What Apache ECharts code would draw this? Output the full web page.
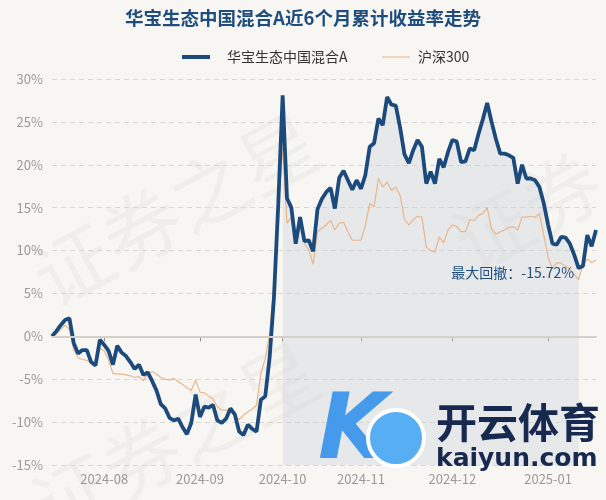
<!DOCTYPE html>
<html>
<head>
<meta charset="utf-8">
<script src="https://cdn.jsdelivr.net/npm/echarts@6/dist/echarts.min.js"></script>
<style>
  html, body { margin: 0; padding: 0; background: #f8f6f2; }
  #chart_main { width: 606px; height: 500px; }
</style>
</head>
<body>
<div id="chart_main"></div>
<script>
// 交易日
const dates_list = [
  '2024-07-16','2024-07-17','2024-07-18','2024-07-19','2024-07-22','2024-07-23','2024-07-24','2024-07-25','2024-07-26','2024-07-29','2024-07-30','2024-07-31',
  '2024-08-01','2024-08-02','2024-08-05','2024-08-06','2024-08-07','2024-08-08','2024-08-09','2024-08-12','2024-08-13','2024-08-14','2024-08-15','2024-08-16',
  '2024-08-19','2024-08-20','2024-08-21','2024-08-22','2024-08-23','2024-08-26','2024-08-27','2024-08-28','2024-08-29','2024-08-30',
  '2024-09-02','2024-09-03','2024-09-04','2024-09-05','2024-09-06','2024-09-09','2024-09-10','2024-09-11','2024-09-12','2024-09-13',
  '2024-09-18','2024-09-19','2024-09-20','2024-09-23','2024-09-24','2024-09-25','2024-09-26','2024-09-27','2024-09-30',
  '2024-10-08','2024-10-09','2024-10-10','2024-10-11','2024-10-14','2024-10-15','2024-10-16','2024-10-17','2024-10-18',
  '2024-10-21','2024-10-22','2024-10-23','2024-10-24','2024-10-25','2024-10-28','2024-10-29','2024-10-30','2024-10-31',
  '2024-11-01','2024-11-04','2024-11-05','2024-11-06','2024-11-07','2024-11-08','2024-11-11','2024-11-12','2024-11-13','2024-11-14','2024-11-15',
  '2024-11-18','2024-11-19','2024-11-20','2024-11-21','2024-11-22','2024-11-25','2024-11-26','2024-11-27','2024-11-28','2024-11-29',
  '2024-12-02','2024-12-03','2024-12-04','2024-12-05','2024-12-06','2024-12-09','2024-12-10','2024-12-11','2024-12-12','2024-12-13',
  '2024-12-16','2024-12-17','2024-12-18','2024-12-19','2024-12-20','2024-12-23','2024-12-24','2024-12-25','2024-12-26','2024-12-27','2024-12-30','2024-12-31',
  '2025-01-02','2025-01-03','2025-01-06','2025-01-07','2025-01-08','2025-01-09','2025-01-10','2025-01-13','2025-01-14','2025-01-15','2025-01-16','2025-01-17'
]

// 基金累计收益率(%)
const fund_stat = [
  0, 0.6, 1.3, 1.9, 2.1, -0.8, -2.0, -1.6, -1.6, -3.0, -3.4, -0.4,
  -1.0, -1.7, -3.3, -1.1, -1.9, -2.3, -3.0, -3.8, -3.3, -4.5, -4.2, -5.2,
  -6.3, -7.9, -8.4, -9.5, -9.8, -9.6, -10.6, -11.4, -10.1, -6.8,
  -9.4, -8.2, -8.3, -8.0, -9.8, -10.1, -9.6, -8.4, -9.1, -11.1,
  -11.5, -10.3, -10.8, -11.1, -7.4, -7.0, -2.5, 4.5, 15.5,
  28.1, 16.1, 15.0, 10.8, 13.9, 11.1, 11.2, 9.9, 14.8,
  16.0, 16.8, 17.3, 14.9, 18.5, 19.3, 18.2, 17.1, 18.2,
  17.2, 18.8, 22.1, 22.5, 25.4, 24.6, 27.9, 27.0, 26.9, 24.3, 21.2,
  20.2, 21.7, 22.9, 22.1, 17.8, 19.2, 17.8, 20.7, 19.7, 21.5,
  22.9, 22.7, 20.3, 20.4, 21.9, 21.7, 23.6, 25.3, 27.2, 25.0,
  23.0, 21.3, 21.3, 21.1, 20.8, 17.8, 20.0, 18.4, 18.4, 18.2, 17.4, 15.5,
  13.0, 10.8, 10.7, 11.6, 11.5, 10.8, 9.5, 7.96, 8.2, 11.8, 10.5, 12.4
]

// 沪深300累计收益率(%)
const hs300_stat = [
  0, 0.3, 0.8, 1.3, 0.8, -1.6, -2.5, -2.7, -2.8, -3.1, -3.4, -1.4,
  -1.7, -2.8, -4.3, -4.4, -4.4, -4.5, -4.6, -4.8, -4.7, -5.2, -4.4, -4.1,
  -4.4, -4.8, -5.0, -5.1, -4.9, -5.3, -5.6, -6.0, -6.3, -5.1,
  -6.5, -6.6, -7.0, -7.3, -8.2, -8.6, -8.6, -8.8, -9.2, -9.7,
  -9.2, -8.8, -8.5, -8.0, -4.3, -2.6, 0.3, 6.0, 15.0,
  22.0, 13.2, 13.9, 11.5, 13.3, 10.8, 10.1, 8.4, 12.2,
  12.6, 13.0, 13.5, 12.4, 13.2, 13.3, 12.2, 11.2, 11.2,
  11.2, 12.9, 15.5, 15.1, 18.4, 17.4, 18.0, 17.0, 17.4, 16.4, 13.6,
  13.0, 13.6, 14.0, 13.9, 10.4, 10.0, 9.8, 11.6, 10.9, 12.4,
  13.0, 12.8, 12.2, 12.2, 13.6, 13.5, 14.1, 14.3, 15.0, 12.5,
  11.9, 12.2, 12.4, 12.7, 12.8, 12.4, 13.9, 13.9, 14.0, 13.9, 14.3, 11.8,
  9.2, 7.9, 8.6, 8.5, 8.2, 7.8, 7.2, 6.6, 8.4, 9.0, 8.6, 8.9
]

const y_ticks = [-15, -10, -5, 0, 5, 10, 15, 20, 25, 30]

// 最大回撤区间：峰值 -> 谷值
const dd_start = 53
const dd_end = 121
const dd_text = '最大回撤：-15.72%'

let dd_area = fund_stat.map((v, i) => (i >= dd_start && i <= dd_end) ? v : '-')

function isMonthStart(index) {
  if (index === 0) return false
  return dates_list[index].substr(0, 7) !== dates_list[index - 1].substr(0, 7)
}

let font = '"Noto Sans CJK SC", "Noto Sans", sans-serif'
let wm = 'rgba(0,0,0,0.03)'

let option = {
  backgroundColor: '#f8f6f2',
  textStyle: { fontFamily: font },
  title: {
    text: '华宝生态中国混合A近6个月累计收益率走势',
    left: 'center',
    top: 4,
    textStyle: { color: '#1f4e7e', fontSize: 18.5, fontWeight: 'bold', fontFamily: font }
  },
  legend: [
    {
      data: [{ name: '华宝生态中国混合A', icon: 'rect' }],
      top: 45,
      left: 177,
      itemWidth: 28,
      itemHeight: 4,
      textStyle: { color: '#333', fontSize: 14, fontFamily: font, padding: [0, 0, 0, 12] }
    },
    {
      data: [{ name: '沪深300', icon: 'rect' }],
      top: 45,
      left: 377,
      itemWidth: 28,
      itemHeight: 1,
      textStyle: { color: '#333', fontSize: 14, fontFamily: font, padding: [0, 0, 0, 3] }
    }
  ],
  graphic: [
    {
      type: 'text', left: 20, top: 100, rotation: 0.5, silent: true, z: 0,
      style: { text: '证券之星', fontSize: 78, fill: wm, fontFamily: font }
    },
    {
      type: 'text', left: 20, top: 330, rotation: 0.5, silent: true, z: 0,
      style: { text: '证券之星', fontSize: 78, fill: wm, fontFamily: font }
    },
    {
      type: 'text', left: 440, top: 140, rotation: 0.5, silent: true, z: 0,
      style: { text: '证券', fontSize: 78, fill: wm, fontFamily: font }
    },
    {
      type: 'text', left: 318, top: 390, silent: true, z: 100,
      style: { text: 'K', fontSize: 90, fontStyle: 'italic', fontWeight: 'bold', fill: 'rgba(40,140,235,0.85)', fontFamily: 'DejaVu Sans' }
    },
    {
      type: 'circle', shape: { cx: 396, cy: 438, r: 28 }, silent: true, z: 101,
      style: { fill: '#58aef2', stroke: '#ffffff', lineWidth: 4 }
    },
    {
      type: 'text', left: 436, top: 402, silent: true, z: 100,
      style: { text: '开云体育', fontSize: 41, fontWeight: 'bold', fill: '#17294f', fontFamily: font }
    },
    {
      type: 'text', left: 436, top: 447, silent: true, z: 100,
      style: { text: 'kaiyun.com', fontSize: 25, fontWeight: 'bold', fill: '#17294f', fontFamily: 'DejaVu Sans' }
    }
  ],
  grid: {
    left: 52,
    right: 10,
    top: 79,
    bottom: 35
  },
  xAxis: {
    type: 'category',
    boundaryGap: false,
    data: dates_list,
    axisLine: { lineStyle: { color: '#8c8c8c', width: 1 } },
    axisTick: {
      show: true,
      length: 5,
      interval: (index) => isMonthStart(index),
      lineStyle: { color: '#8c8c8c' }
    },
    axisLabel: {
      interval: (index) => isMonthStart(index),
      formatter: (value) => value.substr(0, 7),
      color: '#9a9a9a',
      fontSize: 13,
      margin: 8
    },
    splitLine: { show: false }
  },
  yAxis: {
    type: 'value',
    min: y_ticks[0],
    max: y_ticks[y_ticks.length - 1],
    interval: 5,
    axisLine: { show: false },
    axisTick: { show: false },
    axisLabel: { formatter: '{value}%', color: '#9a9a9a', fontSize: 13, margin: 9 },
    splitLine: { lineStyle: { type: [5, 4], color: '#d9d7d3', width: 1 } }
  },
  series: [
    {
      name: '回撤区间',
      type: 'line',
      data: dd_area,
      symbol: 'none',
      silent: true,
      lineStyle: { width: 0 },
      areaStyle: { origin: 'start', color: 'rgba(200,210,218,0.55)' },
      z: 1,
      markPoint: {
        symbol: 'circle',
        symbolSize: 1,
        itemStyle: { color: 'rgba(0,0,0,0)' },
        label: {
          show: true,
          position: 'left',
          distance: 4,
          offset: [0, 5],
          formatter: dd_text,
          color: '#1f4e7e',
          fontSize: 14,
          fontFamily: font
        },
        data: [{ coord: [dd_end, fund_stat[dd_end]] }]
      }
    },
    {
      name: '沪深300',
      type: 'line',
      data: hs300_stat,
      symbol: 'none',
      lineStyle: { color: '#e9b68c', width: 1.2 },
      itemStyle: { color: '#e9b68c' },
      z: 3,
      markLine: {
        silent: true,
        symbol: 'none',
        label: { show: false },
        lineStyle: { color: '#d3d0cb', width: 2, type: 'solid' },
        data: [{ yAxis: 0 }]
      }
    },
    {
      name: '华宝生态中国混合A',
      type: 'line',
      data: fund_stat,
      symbol: 'none',
      lineStyle: { color: '#1d4a7c', width: 3.8 },
      itemStyle: { color: '#1d4a7c' },
      z: 4
    }
  ]
}

let chart_main = echarts.init(document.getElementById('chart_main'))
chart_main.setOption(option)
</script>
</body>
</html>
